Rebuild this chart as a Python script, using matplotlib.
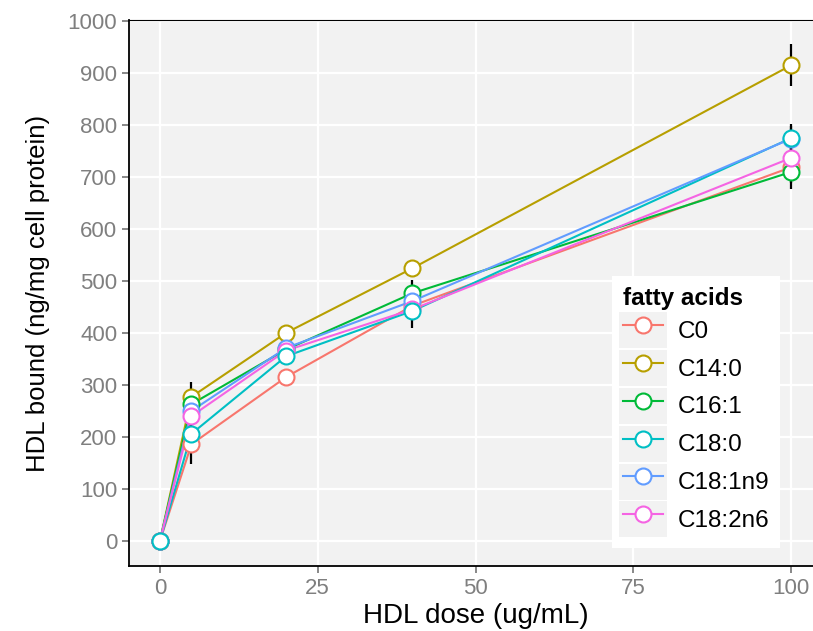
"""
HDL bound vs HDL dose, one line per fatty acid treatment (ggplot-ish look)

    python plot.py  -> out.png
"""

import matplotlib
matplotlib.use("Agg")
import matplotlib.pyplot as plt
from matplotlib.legend_handler import HandlerLine2D
from matplotlib.patches import Rectangle

plt.rcParams["font.family"] = ["Liberation Sans", "DejaVu Sans"]

dose = [0, 5, 20, 40, 100]  # ug/mL

names = ["C0", "C14:0", "C16:1", "C18:0", "C18:1n9", "C18:2n6"]
colors = ["#F8766D", "#B79F00", "#00BA38", "#00BFC4", "#619CFF", "#F564E3"]

c0 = [0, 186, 315, 452, 718]
c14_0 = [0, 277, 400, 524, 914]
c16_1 = [0, 263, 368, 476, 709]
c18_0 = [0, 206, 355, 442, 774]
c18_1n9 = [0, 250, 371, 461, 773]
c18_2n6 = [0, 240, 366, 445, 736]

# error bars (all drawn black in the original)
c0_sd = [0, 38, 8, 15, 30]
c14_0_sd = [0, 28, 5, 10, 40]
c16_1_sd = [0, 20, 10, 25, 33]
c18_0_sd = [0, 25, 10, 33, 27]
c18_1n9_sd = [0, 20, 10, 20, 25]
c18_2n6_sd = [0, 20, 10, 20, 25]

series = [c0, c14_0, c16_1, c18_0, c18_1n9, c18_2n6]
errs = [c0_sd, c14_0_sd, c16_1_sd, c18_0_sd, c18_1n9_sd, c18_2n6_sd]
# C18:0 ends up on top of the points in the original
point_z = [4, 4.1, 4.2, 4.5, 4.3, 4.4]


class GreyKey(HandlerLine2D):
    # ggplot style legend key: grey square behind the line + point
    def create_artists(self, legend, orig_handle, xdescent, ydescent,
                       width, height, fontsize, trans):
        arts = super().create_artists(legend, orig_handle, xdescent, ydescent,
                                      width, height, fontsize, trans)
        pad = 0.15 * fontsize
        bg = Rectangle((-xdescent - pad, -ydescent), width + 2 * pad, height,
                       facecolor="#F2F2F2", edgecolor="none", transform=trans)
        return [bg] + arts


fig = plt.figure(figsize=(8.13, 6.31), dpi=100)
W, H = 813, 631
ax = fig.add_axes([129 / W, (H - 566) / H, (822 - 129) / W, (566 - 20) / H])
ax.set_facecolor("#F2F2F2")

handles = []
for ys, sd, name, col, z in zip(series, errs, names, colors, point_z):
    ax.plot(dose, ys, color=col, lw=1.5, zorder=2)
    ax.errorbar(dose, ys, yerr=sd, fmt="none", ecolor="black", elinewidth=1.6,
                capsize=0, zorder=3)
    ax.plot(dose, ys, ls="none", marker="o", ms=11.5, mfc="white", mec=col,
            mew=1.5, zorder=z)
    h, = plt.plot([], [], color=col, lw=1.5, marker="o", ms=11.5, mfc="white",
                  mec=col, mew=1.5)
    handles.append(h)

ax.set_xlim(-4.9, 104.9)
ax.set_ylim(-48, 1001)
ax.set_xticks([0, 25, 50, 75, 100])
ax.set_yticks(range(0, 1001, 100))
ax.grid(True, color="white", lw=1.6)
ax.set_axisbelow(True)

for s in ["left", "bottom", "top"]:
    ax.spines[s].set_color("black")
    ax.spines[s].set_linewidth(1.3)
ax.spines["top"].set_linewidth(0.8)
ax.spines["right"].set_visible(False)

ax.tick_params(colors="#7F7F7F", labelsize=16, length=5, width=1.3,
               labelcolor="#7F7F7F")
# the original has this label sitting right at the bottom edge
ax.set_xlabel("HDL dose (ug/mL)", fontsize=20, labelpad=3)
ax.set_ylabel("HDL bound (ng/mg cell protein)", fontsize=18.5, labelpad=13)

leg = ax.legend(handles, names, title="fatty acids", loc="upper left",
                bbox_to_anchor=(612 / W, 1 - 276 / H),
                bbox_transform=fig.transFigure, borderaxespad=0,
                fontsize=17.5, title_fontproperties={"weight": "bold", "size": 17.5},
                alignment="left", numpoints=1, handlelength=1.65,
                handleheight=1.9, labelspacing=0.08, handletextpad=0.6,
                borderpad=0.45, fancybox=False, framealpha=1,
                handler_map={h: GreyKey() for h in handles})
leg.get_frame().set_edgecolor("none")
leg.get_frame().set_facecolor("white")
leg.set_zorder(10)

fig.savefig("out.png", dpi=100)
print("wrote out.png")
